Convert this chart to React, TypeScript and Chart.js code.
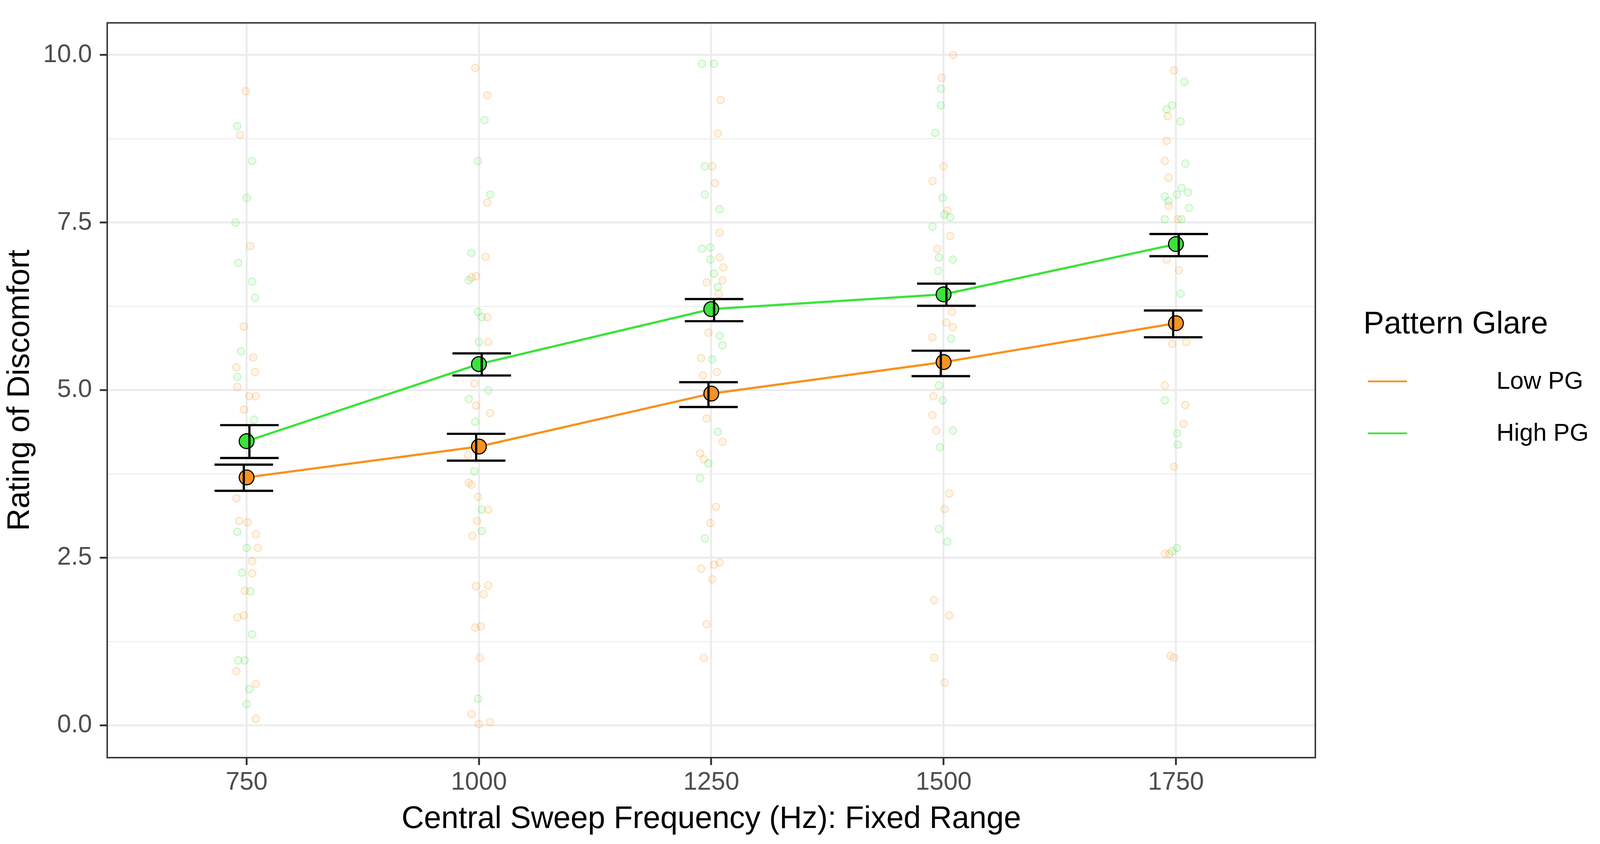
import { useEffect, useRef } from 'react'
import { Chart, registerables } from 'chart.js'

Chart.register(...registerables)

// sweep frequencies (Hz) on the x axis
const FREQS = [750, 1000, 1250, 1500, 1750]

// group means and error bar limits
const LOW_MEAN = [3.70, 4.16, 4.95, 5.42, 6.00]
const LOW_LO = [3.50, 3.95, 4.75, 5.21, 5.79]
const LOW_HI = [3.89, 4.35, 5.12, 5.59, 6.19]
const HIGH_MEAN = [4.24, 5.39, 6.21, 6.43, 7.18]
const HIGH_LO = [3.99, 5.22, 6.03, 6.26, 7.00]
const HIGH_HI = [4.48, 5.55, 6.36, 6.59, 7.33]

// raw ratings, [jitter offset in Hz, rating]
const LOW_RAW_750 = [[-1, 9.46], [-7, 8.81], [4, 7.15], [-3, 5.95], [7, 5.49], [-11, 5.34], [9, 5.27], [-10, 5.05], [3, 4.91], [10, 4.91], [-3, 4.71], [-11, 3.39], [-8, 3.05], [1, 3.03], [10, 2.85], [12, 2.65], [6, 2.45], [6, 2.27], [-2, 2.01], [-10, 1.61], [-3, 1.64], [-11, 0.81], [10, 0.62], [10, 0.10]]
const HIGH_RAW_750 = [[-10, 8.94], [6, 8.42], [0, 7.87], [-12, 7.50], [-9, 6.90], [6, 6.62], [9, 6.38], [-6, 5.58], [-10, 5.20], [8, 4.56], [-10, 2.89], [0, 2.65], [-5, 2.28], [4, 2.00], [6, 1.36], [-9, 0.97], [-2, 0.97], [3, 0.54], [0, 0.32]]
const LOW_RAW_1000 = [[-4, 9.81], [9, 9.40], [9, 7.80], [7, 6.99], [-3, 6.70], [-8, 6.68], [9, 6.09], [10, 5.72], [-5, 5.10], [-3, 4.77], [12, 4.66], [-12, 4.03], [-11, 3.62], [-8, 3.59], [-1, 3.41], [10, 3.22], [-2, 3.05], [-7, 2.83], [-3, 2.08], [10, 2.09], [5, 1.96], [-4, 1.46], [2, 1.48], [1, 1.01], [-8, 0.17], [0, 0.02], [12, 0.05]]
const HIGH_RAW_1000 = [[6, 9.03], [-1, 8.42], [12, 7.92], [-8, 7.05], [-11, 6.64], [-1, 6.17], [3, 6.09], [0, 5.72], [10, 5.00], [-11, 4.87], [-4, 4.53], [-5, 3.79], [3, 3.22], [3, 2.90], [-1, 0.40]]
const LOW_RAW_1250 = [[10, 9.33], [7, 8.83], [1, 8.34], [4, 8.09], [9, 7.35], [9, 6.98], [13, 6.83], [-5, 6.61], [12, 6.64], [8, 6.44], [-3, 5.86], [-11, 5.48], [6, 5.27], [-9, 5.22], [-5, 4.58], [12, 4.23], [-12, 4.06], [-8, 3.97], [5, 3.26], [-1, 3.02], [-11, 2.34], [3, 2.40], [9, 2.43], [1, 2.18], [-5, 1.51], [-8, 1.01]]
const HIGH_RAW_1250 = [[-10, 9.87], [3, 9.87], [-7, 8.34], [-7, 7.92], [9, 7.70], [-10, 7.11], [-1, 7.13], [-1, 6.95], [3, 6.74], [7, 6.54], [9, 5.81], [12, 5.67], [1, 5.46], [7, 4.38], [-3, 3.91], [-12, 3.69], [-7, 2.79]]
const LOW_RAW_1500 = [[10, 10.0], [-2, 9.66], [0, 8.34], [-12, 8.12], [4, 7.68], [7, 7.30], [-7, 7.11], [9, 6.17], [3, 6.01], [10, 5.94], [-12, 5.79], [-11, 4.91], [-12, 4.63], [-8, 4.40], [6, 3.46], [1, 3.23], [-10, 1.87], [6, 1.64], [-10, 1.01], [1, 0.64]]
const HIGH_RAW_1500 = [[-3, 9.50], [-3, 9.25], [-9, 8.84], [-1, 7.87], [1, 7.62], [7, 7.58], [-12, 7.44], [-5, 6.98], [10, 6.95], [-6, 6.78], [8, 5.77], [-5, 5.07], [-1, 4.85], [10, 4.40], [-4, 4.15], [-5, 2.93], [4, 2.74]]
const LOW_RAW_1750 = [[-2, 9.77], [-9, 9.09], [-10, 8.72], [-12, 8.42], [-8, 8.17], [-8, 7.75], [2, 7.55], [-10, 6.95], [3, 6.79], [-4, 5.69], [11, 5.72], [-12, 5.07], [10, 4.78], [8, 4.50], [-2, 3.86], [-12, 2.56], [-7, 2.56], [-6, 1.04], [-2, 1.01]]
const HIGH_RAW_1750 = [[9, 9.60], [-4, 9.25], [-10, 9.19], [5, 9.01], [10, 8.38], [-12, 7.89], [-8, 7.82], [1, 7.92], [6, 8.02], [13, 7.95], [-12, 7.55], [6, 7.55], [14, 7.72], [5, 6.44], [-12, 4.85], [1, 4.36], [2, 4.19], [1, 2.65], [-4, 2.60]]

const LOW_RAW = [LOW_RAW_750, LOW_RAW_1000, LOW_RAW_1250, LOW_RAW_1500, LOW_RAW_1750]
const HIGH_RAW = [HIGH_RAW_750, HIGH_RAW_1000, HIGH_RAW_1250, HIGH_RAW_1500, HIGH_RAW_1750]

const Y_MAJOR = [0, 2.5, 5, 7.5, 10]
const Y_MINOR = [1.25, 3.75, 6.25, 8.75]

const LEGEND_TITLE = 'Pattern Glare'
const LEGEND_LABELS = ['Low PG', 'High PG']

const ORANGE = '#F7931E'
const GREEN = '#3BE33B'
const FONT = '"Liberation Sans", Arial, Helvetica, sans-serif'

// layout was measured on a 4328 x 2160 picture, scaled to the real viewport
const BASE_W = 4328
const BASE_H = 2160

const rawPoints = (groups: number[][][]) =>
  groups.flatMap((pts, i) => pts.map(([dx, y]) => ({ x: FREQS[i] + dx, y })))

const meanPoints = (means: number[]) => means.map((y, i) => ({ x: FREQS[i], y }))

export default function App() {
  const canvasRef = useRef<HTMLCanvasElement>(null)
  const chartRef = useRef<Chart | null>(null)

  useEffect(() => {
    document.body.style.margin = '0'
    document.body.style.overflow = 'hidden'
    if (!canvasRef.current) return
    chartRef.current?.destroy()
    Chart.defaults.font.family = FONT

    const kx = window.innerWidth / BASE_W
    const ky = window.innerHeight / BASE_H
    const k = Math.min(kx, ky)

    const errorBars = {
      id: 'errorBars',
      afterDatasetsDraw(chart: Chart) {
        const { ctx, scales: { x, y } } = chart
        const groups = [
          { lo: LOW_LO, hi: LOW_HI, dodge: -3 },
          { lo: HIGH_LO, hi: HIGH_HI, dodge: 3 },
        ]
        ctx.save()
        ctx.strokeStyle = '#000000'
        ctx.lineWidth = 6 * k
        groups.forEach(g => {
          FREQS.forEach((f, i) => {
            const cx = x.getPixelForValue(f + g.dodge)
            const x0 = x.getPixelForValue(f + g.dodge - 31.5)
            const x1 = x.getPixelForValue(f + g.dodge + 31.5)
            const yl = y.getPixelForValue(g.lo[i])
            const yh = y.getPixelForValue(g.hi[i])
            ctx.beginPath()
            ctx.moveTo(x0, yh); ctx.lineTo(x1, yh)
            ctx.moveTo(x0, yl); ctx.lineTo(x1, yl)
            ctx.moveTo(cx, yh); ctx.lineTo(cx, yl)
            ctx.stroke()
          })
        })
        ctx.restore()
      },
    }

    const panelAndLegend = {
      id: 'panelAndLegend',
      afterDraw(chart: Chart) {
        const { ctx, chartArea: a } = chart
        ctx.save()
        ctx.strokeStyle = '#333333'
        ctx.lineWidth = 4 * k
        ctx.strokeRect(a.left, a.top, a.right - a.left, a.bottom - a.top)

        ctx.fillStyle = '#000000'
        ctx.textBaseline = 'middle'
        ctx.textAlign = 'left'
        ctx.font = `${84 * k}px ${FONT}`
        ctx.fillText(LEGEND_TITLE, 3688 * kx, 831 * ky)
        const colors = [ORANGE, GREEN]
        const rows = [976, 1109]
        ctx.font = `${66 * k}px ${FONT}`
        LEGEND_LABELS.forEach((label, i) => {
          ctx.strokeStyle = colors[i]
          ctx.lineWidth = 5 * k
          ctx.beginPath()
          ctx.moveTo(3700 * kx, rows[i] * ky); ctx.lineTo(3806 * kx, rows[i] * ky)
          ctx.stroke()
          ctx.fillText(label, 4048 * kx, (rows[i] + 2) * ky)
        })
        ctx.restore()
      },
    }

    chartRef.current = new Chart(canvasRef.current, {
      type: 'scatter',
      data: {
        datasets: [
          {
            label: 'Low PG raw',
            data: rawPoints(LOW_RAW),
            backgroundColor: 'rgba(247,147,30,0.10)',
            borderColor: 'rgba(247,147,30,0.28)',
            borderWidth: 2.5 * k,
            pointRadius: 10 * k,
            order: 5,
          },
          {
            label: 'High PG raw',
            data: rawPoints(HIGH_RAW),
            backgroundColor: 'rgba(59,227,59,0.10)',
            borderColor: 'rgba(59,227,59,0.28)',
            borderWidth: 2.5 * k,
            pointRadius: 10 * k,
            order: 4,
          },
          {
            type: 'line',
            label: 'Low PG',
            data: meanPoints(LOW_MEAN),
            borderColor: ORANGE,
            borderWidth: 6 * k,
            pointRadius: 20 * k,
            pointBackgroundColor: ORANGE,
            pointBorderColor: '#000000',
            pointBorderWidth: 3 * k,
            tension: 0,
            order: 2,
          },
          {
            type: 'line',
            label: 'High PG',
            data: meanPoints(HIGH_MEAN),
            borderColor: GREEN,
            borderWidth: 6 * k,
            pointRadius: 20 * k,
            pointBackgroundColor: GREEN,
            pointBorderColor: '#000000',
            pointBorderWidth: 3 * k,
            tension: 0,
            order: 1,
          },
        ],
      },
      options: {
        responsive: true,
        maintainAspectRatio: false,
        animation: false,
        layout: { padding: { left: 0, top: 25 * ky, right: 770 * kx, bottom: 0 } },
        plugins: { legend: { display: false }, tooltip: { enabled: false } },
        scales: {
          x: {
            type: 'linear',
            min: 600,
            max: 1900,
            afterBuildTicks: (s) => { s.ticks = FREQS.map(v => ({ value: v })) },
            afterFit: (s) => { s.height = 221 * ky },
            ticks: {
              color: '#4D4D4D',
              font: { size: 68 * k },
              padding: 7 * ky,
              maxRotation: 0,
              callback: (v) => String(v),
            },
            grid: {
              color: '#EBEBEB',
              lineWidth: 5 * k,
              tickLength: 20 * k,
              tickColor: '#333333',
              tickWidth: 5 * k,
            },
            border: { display: false },
            title: {
              display: true,
              text: 'Central Sweep Frequency (Hz): Fixed Range',
              color: '#000000',
              font: { size: 84 * k },
              padding: { top: 0, bottom: 15 * ky },
            },
          },
          y: {
            type: 'linear',
            min: -0.48,
            max: 10.48,
            afterBuildTicks: (s) => {
              s.ticks = [...Y_MAJOR, ...Y_MINOR].sort((a, b) => a - b).map(v => ({ value: v }))
            },
            afterFit: (s) => { s.width = 290 * kx },
            ticks: {
              color: '#4D4D4D',
              font: { size: 68 * k },
              padding: 21 * kx,
              callback: (v) => (Y_MAJOR.includes(Number(v)) ? Number(v).toFixed(1) : ''),
            },
            grid: {
              color: '#EBEBEB',
              lineWidth: (c) => (Y_MAJOR.includes(c.tick?.value) ? 5 * k : 2.5 * k),
              tickLength: 20 * k,
              tickColor: (c) => (Y_MAJOR.includes(c.tick?.value) ? '#333333' : 'rgba(0,0,0,0)'),
              tickWidth: 5 * k,
            },
            border: { display: false },
            title: {
              display: true,
              text: 'Rating of Discomfort',
              color: '#000000',
              font: { size: 84 * k },
              padding: { top: 5 * kx, bottom: 0 },
            },
          },
        },
      },
      plugins: [errorBars, panelAndLegend],
    })

    return () => { chartRef.current?.destroy() }
  }, [])

  return (
    <div style={{ position: 'relative', width: '100vw', height: '100vh', background: '#ffffff' }}>
      <canvas ref={canvasRef} />
    </div>
  )
}
